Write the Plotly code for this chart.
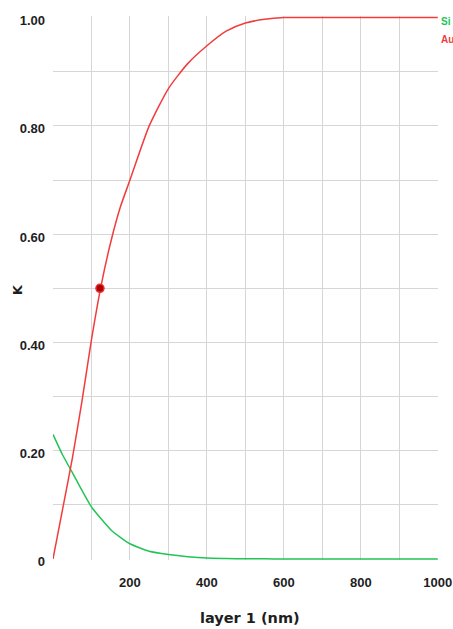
import plotly.graph_objects as go

# Data
thickness = [0, 25, 50, 75, 100, 125, 150, 175, 200, 250, 300, 350, 400, 450, 500, 550, 600, 700, 800, 900, 1000]
k_au = [0.0, 0.092, 0.185, 0.29, 0.405, 0.505, 0.585, 0.65, 0.70, 0.80, 0.869, 0.915, 0.948, 0.975, 0.99, 0.997, 1.0, 1.0, 1.0, 1.0, 1.0]
k_si = [0.23, 0.192, 0.16, 0.127, 0.096, 0.074, 0.054, 0.040, 0.028, 0.014, 0.008, 0.004, 0.0015, 0.0008, 0.0003, 0.0001, 0.0, 0.0, 0.0, 0.0, 0.0]
marker_x = [122]
marker_y = [0.5]

x_tickvals = [200, 400, 600, 800, 1000]
x_ticktext = ["200", "400", "600", "800", "1000"]
y_tickvals = [0, 0.2, 0.4, 0.6, 0.8, 1.0]
y_ticktext = ["0", "0.20", "0.40", "0.60", "0.80", "1.00"]
x_grid = [100, 200, 300, 400, 500, 600, 700, 800, 900]
y_grid = [0.1, 0.2, 0.3, 0.4, 0.5, 0.6, 0.7, 0.8, 0.9]

RED = "#f23c3c"
GREEN = "#22c455"
TICKFONT = "Liberation Sans"
TITLEFONT = "DejaVu Sans"
TXT = "#1e1e1e"

fig = go.Figure()
fig.add_trace(go.Scatter(x=thickness, y=k_si, mode="lines", name="Si",
                         line=dict(color=GREEN, width=1.5, shape="spline", smoothing=0.6)))
fig.add_trace(go.Scatter(x=thickness, y=k_au, mode="lines", name="Au",
                         line=dict(color=RED, width=1.5, shape="spline", smoothing=0.6)))
fig.add_trace(go.Scatter(x=marker_x, y=marker_y, mode="markers", showlegend=False,
                         marker=dict(color="#b00000", size=8, line=dict(color="#e83030", width=1.5))))

fig.update_layout(
    width=453, height=629,
    margin=dict(l=53, r=15, t=16, b=69, autoexpand=False),
    paper_bgcolor="white", plot_bgcolor="white",
    showlegend=False,
    font=dict(family=TICKFONT, size=13, color=TXT),
)
fig.update_xaxes(
    range=[0, 1000.5], tickmode="array", tickvals=x_tickvals, ticktext=x_ticktext,
    showgrid=False, zeroline=False, showline=False, ticks="", automargin=False,
    ticklabelstandoff=13, ticklabeloverflow="allow",
    tickfont=dict(family=TICKFONT, size=13, color=TXT, weight="bold"),
    minor=dict(tickmode="array", tickvals=x_grid, showgrid=True, gridcolor="#d6d6d6", gridwidth=1, ticks=""),
)
fig.update_yaxes(
    range=[-0.002, 1.003], tickmode="array", tickvals=y_tickvals, ticktext=y_ticktext,
    showgrid=False, zeroline=False, showline=False, ticks="", automargin=False,
    ticklabelstandoff=7, ticklabelshift=3, ticklabeloverflow="allow",
    tickfont=dict(family=TICKFONT, size=13, color=TXT, weight="bold"),
    minor=dict(tickmode="array", tickvals=y_grid, showgrid=True, gridcolor="#d6d6d6", gridwidth=1, ticks=""),
)

# axis titles
fig.add_annotation(x=0.5117, y=0, xref="paper", yref="paper", xanchor="center", yanchor="middle",
                   yshift=-58, text="layer 1 (nm)", showarrow=False,
                   font=dict(family=TITLEFONT, size=14.5, color=TXT, weight="bold"))
fig.add_annotation(x=0, y=0.497, xref="paper", yref="paper", xanchor="center", yanchor="middle",
                   xshift=-35.5, text="K", textangle=-90, showarrow=False,
                   font=dict(family=TITLEFONT, size=13, color=TXT, weight="bold"))

# series labels (right side)
fig.add_annotation(x=1, y=1, xref="paper", yref="paper", xanchor="left", yanchor="middle",
                   xshift=1, yshift=-5, text="Si", showarrow=False,
                   font=dict(family=TICKFONT, size=10, color=GREEN, weight="bold"))
fig.add_annotation(x=1, y=1, xref="paper", yref="paper", xanchor="left", yanchor="middle",
                   xshift=1, yshift=-23, text="Au", showarrow=False,
                   font=dict(family=TICKFONT, size=10, color=RED, weight="bold"))

# remove the default page margin so the 453x629 figure fills the window exactly
fig.write_html(
    "out.html",
    config={"displayModeBar": False},
    post_script="document.body.style.margin='0';"
                "document.documentElement.style.overflow='hidden';"
                "document.body.style.overflow='hidden';",
)
